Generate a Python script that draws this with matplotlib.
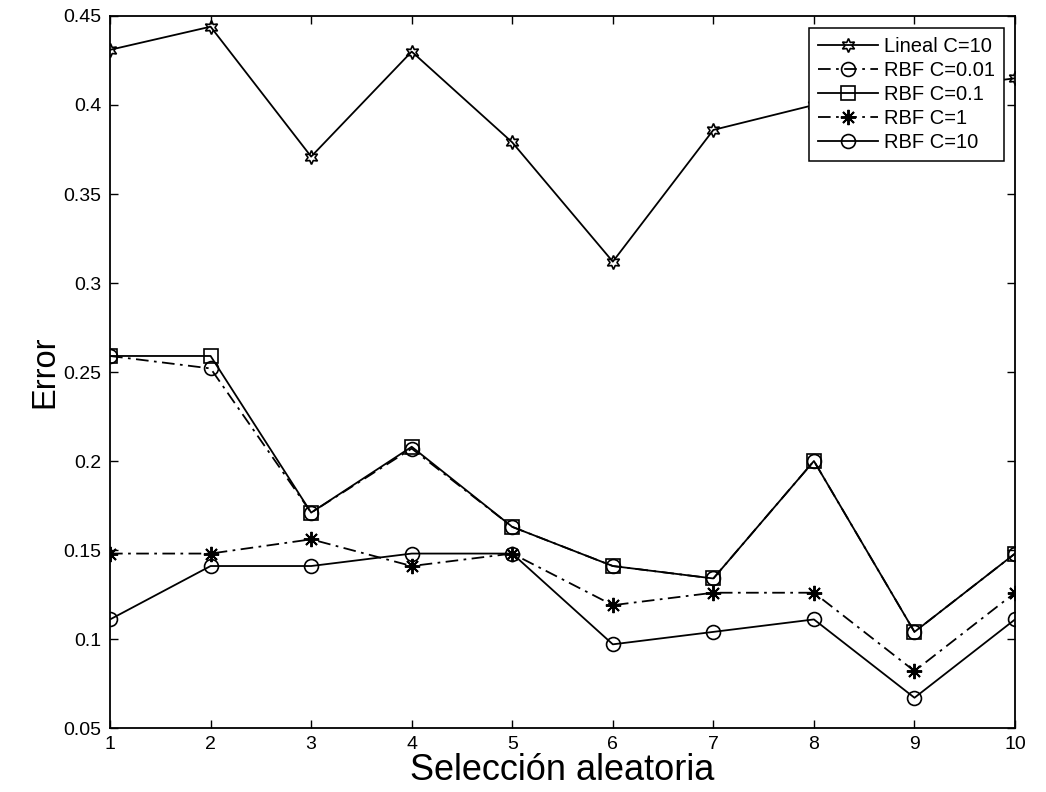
import numpy as np
import matplotlib
matplotlib.use('Agg')
import matplotlib.pyplot as plt

plt.rcParams['font.family'] = ['Liberation Sans', 'DejaVu Sans']

# data
x = [1, 2, 3, 4, 5, 6, 7, 8, 9, 10]
lineal_c10 = [0.431, 0.444, 0.371, 0.430, 0.379, 0.312, 0.386, 0.400, 0.408, 0.415]
rbf_c001 = [0.259, 0.252, 0.171, 0.207, 0.163, 0.141, 0.134, 0.200, 0.104, 0.148]
rbf_c01 = [0.259, 0.259, 0.171, 0.208, 0.163, 0.141, 0.134, 0.200, 0.104, 0.148]
rbf_c1 = [0.148, 0.148, 0.156, 0.141, 0.148, 0.119, 0.126, 0.126, 0.082, 0.126]
rbf_c10 = [0.111, 0.141, 0.141, 0.148, 0.148, 0.097, 0.104, 0.111, 0.067, 0.111]

labels = ['Lineal C=10', 'RBF C=0.01', 'RBF C=0.1', 'RBF C=1', 'RBF C=10']
yticks = [0.05, 0.1, 0.15, 0.2, 0.25, 0.3, 0.35, 0.4, 0.45]
ytick_labels = ['0.05', '0.1', '0.15', '0.2', '0.25', '0.3', '0.35', '0.4', '0.45']

fig = plt.figure(figsize=(10.46, 7.92), dpi=100)
ax = fig.add_axes([0.1052, 0.0808, 0.8652, 0.899])

dashdot = (0, (7, 3, 1.5, 3))
common = dict(color='black', lw=1.3, mfc='none', mec='black', mew=1.2, ms=10)

ax.plot(x, lineal_c10, marker=(6, 1, 0), ls='-', label=labels[0], **common)
ax.plot(x, rbf_c001, marker='o', ls=dashdot, label=labels[1], **common)
ax.plot(x, rbf_c01, marker='s', ls='-', label=labels[2], **common)
# matlab style asterisk (8 spokes)
ax.plot(x, rbf_c1, marker=(8, 2, 0), ls=dashdot, label=labels[3],
        color='black', lw=1.3, mec='black', mew=1.4, ms=11)
ax.plot(x, rbf_c10, marker='o', ls='-', label=labels[4], **common)

ax.set_xlim(1, 10)
ax.set_ylim(0.05, 0.45)
ax.set_xticks(x)
ax.set_yticks(yticks)
ax.set_yticklabels(ytick_labels)
ax.tick_params(direction='in', length=6, width=1, top=True, right=True,
               labelsize=14, pad=6)
for s in ax.spines.values():
    s.set_linewidth(1.3)

ax.set_xlabel('Selección aleatoria', fontsize=26, labelpad=0)
ax.set_ylabel('Error', fontsize=23.5, labelpad=2)

leg = ax.legend(loc='upper right', bbox_to_anchor=(0.988, 0.983), borderaxespad=0,
                fontsize=14.5, fancybox=False, framealpha=1, edgecolor='black',
                handlelength=3.0, labelspacing=0.25, handletextpad=0.3,
                borderpad=0.45)
leg.get_frame().set_linewidth(1.1)

fig.savefig('out.png', dpi=100)
